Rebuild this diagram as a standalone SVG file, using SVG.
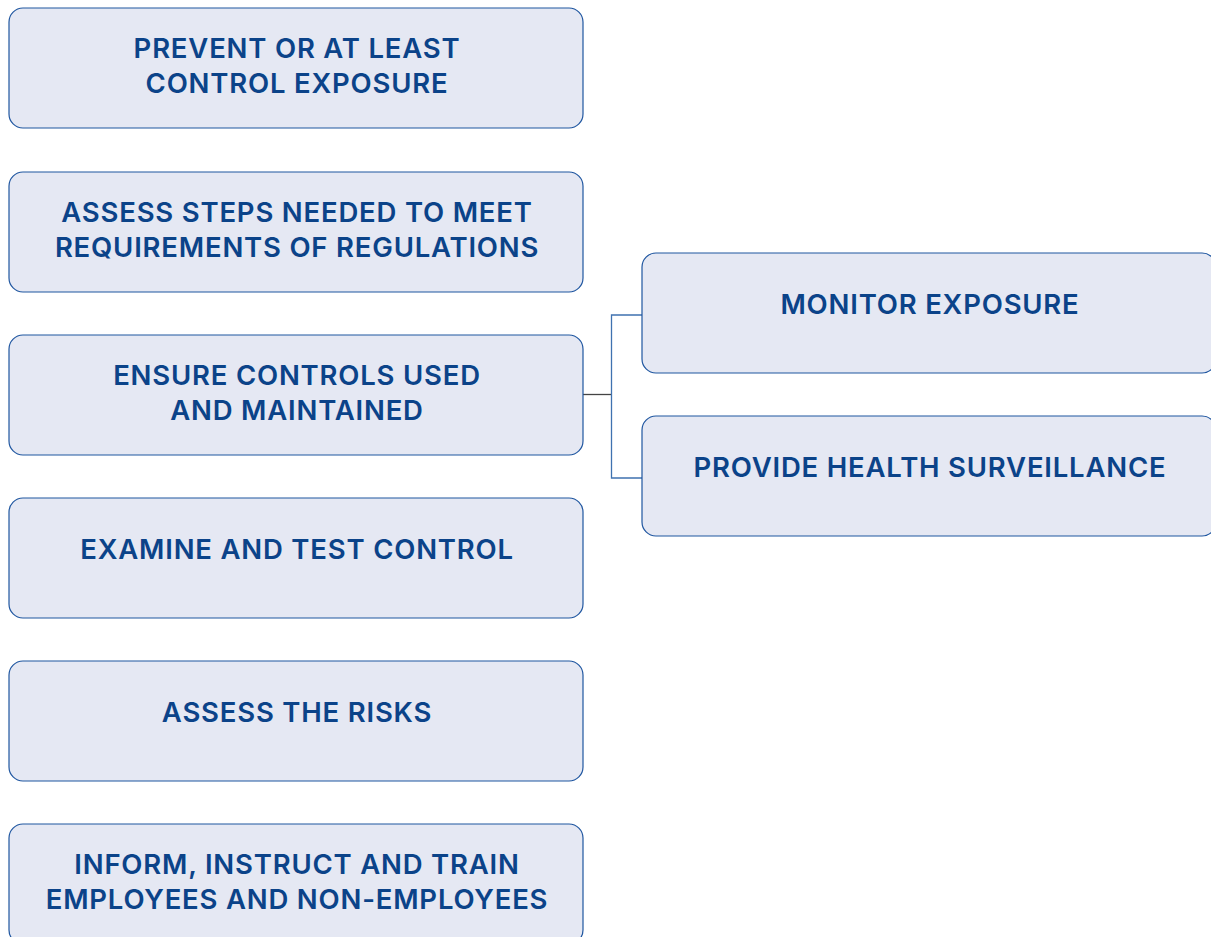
<svg xmlns="http://www.w3.org/2000/svg" width="1211" height="937" viewBox="0 0 1211 937">
<style>
.box{fill:#e5e8f3;stroke:#1f56a0;stroke-width:1.2}
.t{font-family:Inter,"Liberation Sans",sans-serif;font-weight:600;font-size:27.5px;letter-spacing:0.8px;fill:#0b4389;text-anchor:middle}
.c{fill:none;stroke:#3f72b0;stroke-width:1.3}
</style>
<rect width="1211" height="937" fill="#ffffff"/>
<g id="connectors">
<line x1="583" y1="394.5" x2="611" y2="394.5" stroke="#444444" stroke-width="1.3"/>
<path class="c" d="M642 315 H611.5 V478 H642"/>
</g>
<g id="n1"><rect class="box" x="9" y="8" width="574" height="120" rx="14"/><text class="t" x="297" y="58">PREVENT OR AT LEAST</text><text class="t" x="297" y="93">CONTROL EXPOSURE</text></g>
<g id="n2"><rect class="box" x="9" y="172" width="574" height="120" rx="14"/><text class="t" x="297" y="222">ASSESS STEPS NEEDED TO MEET</text><text class="t" x="297" y="257">REQUIREMENTS OF REGULATIONS</text></g>
<g id="n3"><rect class="box" x="9" y="335" width="574" height="120" rx="14"/><text class="t" x="297" y="385">ENSURE CONTROLS USED</text><text class="t" x="297" y="420">AND MAINTAINED</text></g>
<g id="n4"><rect class="box" x="9" y="498" width="574" height="120" rx="14"/><text class="t" x="297" y="559">EXAMINE AND TEST CONTROL</text></g>
<g id="n5"><rect class="box" x="9" y="661" width="574" height="120" rx="14"/><text class="t" x="297" y="722">ASSESS THE RISKS</text></g>
<g id="n6"><rect class="box" x="9" y="824" width="574" height="120" rx="14"/><text class="t" x="297" y="874">INFORM, INSTRUCT AND TRAIN</text><text class="t" x="297" y="909">EMPLOYEES AND NON-EMPLOYEES</text></g>
<g id="n7"><rect class="box" x="642" y="253" width="574" height="120" rx="14"/><text class="t" x="930" y="314">MONITOR EXPOSURE</text></g>
<g id="n8"><rect class="box" x="642" y="416" width="574" height="120" rx="14"/><text class="t" x="930" y="477">PROVIDE HEALTH SURVEILLANCE</text></g>
</svg>
